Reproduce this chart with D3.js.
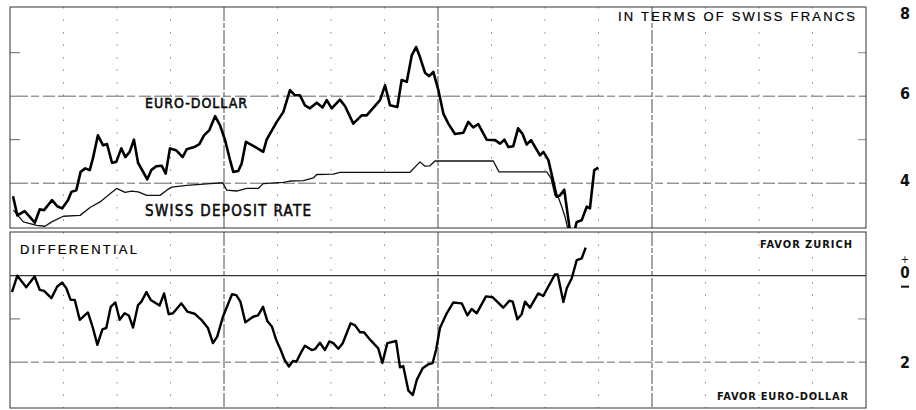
<!DOCTYPE html>
<html>
<head>
<meta charset="utf-8">
<script src="https://cdn.jsdelivr.net/npm/d3@7"></script>
<style>
  html, body { margin: 0; padding: 0; background: #fff; }
  svg { display: block; }
  .lbl { fill: #111; font-family: "DejaVu Sans Condensed", "Liberation Sans", sans-serif; }
  .lbl-wide { fill: #000; font-family: "Liberation Sans", "DejaVu Sans", sans-serif; }
</style>
</head>
<body>
<div id="chart"></div>
<script>
// ---- Data (x = months from start of the period, y = percent per annum)
const euroDollar = [
  [0.17, 3.70], [0.41, 3.26], [0.82, 3.36], [1.10, 3.23], [1.39, 3.09], [1.67, 3.40], [1.91, 3.38],
  [2.36, 3.61], [2.65, 3.47], [2.92, 3.42], [3.25, 3.61], [3.44, 3.80], [3.72, 3.84], [3.96, 4.26],
  [4.22, 4.34], [4.47, 4.30], [4.65, 4.57], [4.93, 5.10], [5.22, 4.87], [5.44, 4.90], [5.72, 4.47],
  [5.96, 4.49], [6.24, 4.80], [6.47, 4.60], [6.71, 4.72], [6.95, 5.00], [7.18, 4.47], [7.70, 4.09],
  [7.92, 4.30], [8.20, 4.39], [8.51, 4.40], [8.73, 4.22], [8.97, 4.80], [9.31, 4.76], [9.68, 4.60],
  [9.91, 4.78], [10.33, 4.83], [10.62, 4.90], [10.88, 5.10], [11.18, 5.22], [11.50, 5.54], [11.78, 5.33],
  [12.06, 4.99], [12.34, 4.53], [12.52, 4.26], [12.80, 4.28], [12.99, 4.45], [13.23, 4.95], [13.64, 4.86],
  [14.20, 4.72], [14.39, 5.00], [14.96, 5.41], [15.33, 5.64], [15.70, 6.14], [15.98, 6.02], [16.26, 6.02],
  [16.54, 5.79], [16.82, 5.72], [17.20, 5.85], [17.53, 5.74], [17.76, 5.91], [18.04, 5.72], [18.50, 5.92],
  [18.79, 5.77], [19.25, 5.37], [19.72, 5.56], [20.00, 5.56], [20.75, 5.91], [21.03, 6.25], [21.31, 5.79],
  [21.72, 5.75], [21.96, 6.37], [22.25, 6.33], [22.53, 6.94], [22.77, 7.13], [22.99, 6.90], [23.27, 6.54],
  [23.51, 6.46], [23.74, 6.56], [24.02, 6.14], [24.30, 5.60], [24.58, 5.37], [24.95, 5.13], [25.42, 5.16],
  [25.70, 5.41], [25.98, 5.28], [26.26, 5.36], [26.73, 5.00], [27.20, 4.99], [27.48, 4.91], [27.72, 5.00],
  [27.95, 4.83], [28.22, 4.85], [28.49, 5.26], [28.73, 5.14], [28.97, 4.89], [29.22, 4.99], [29.72, 4.64],
  [29.91, 4.72], [30.19, 4.53], [30.41, 4.14], [30.66, 3.69], [30.84, 3.72], [31.08, 3.85], [31.25, 3.34],
  [31.40, 2.90], [31.68, 2.95], [31.78, 3.11], [32.06, 3.15], [32.34, 3.46], [32.52, 3.42], [32.76, 4.30],
  [32.99, 4.36]
];

const swissDeposit = [
  [0.19, 3.38], [0.75, 3.11], [1.12, 3.07], [1.50, 3.03], [1.96, 3.01], [2.34, 3.11], [2.99, 3.24],
  [3.93, 3.26], [4.49, 3.44], [5.05, 3.57], [5.61, 3.76], [5.98, 3.88], [6.45, 3.79], [6.82, 3.82],
  [7.19, 3.80], [7.67, 3.72], [8.41, 3.72], [8.79, 3.84], [9.07, 3.91], [9.91, 3.95], [11.22, 3.99],
  [11.93, 4.01], [12.15, 3.84], [12.71, 3.82], [13.27, 3.88], [13.92, 3.88], [14.20, 3.99], [15.33, 4.02],
  [15.70, 4.05], [16.45, 4.06], [17.01, 4.12], [17.20, 4.20], [18.13, 4.21], [18.50, 4.25], [22.43, 4.25],
  [22.99, 4.49], [23.27, 4.39], [23.55, 4.40], [23.83, 4.51], [27.10, 4.51], [27.42, 4.26], [30.10, 4.26],
  [30.34, 4.11], [30.56, 3.72], [30.75, 3.67], [30.94, 3.46], [31.12, 3.23], [31.31, 2.90]
];

const differential = [
  [0.11, -0.38], [0.41, 0.00], [0.91, -0.27], [1.38, -0.02], [1.67, -0.33], [1.91, -0.35], [2.32, -0.52],
  [2.65, -0.25], [2.92, -0.16], [3.16, -0.29], [3.40, -0.56], [3.63, -0.56], [3.91, -1.02], [4.37, -0.85],
  [4.65, -1.21], [4.90, -1.60], [5.18, -1.24], [5.40, -1.21], [5.65, -0.72], [5.91, -0.62], [6.15, -1.02],
  [6.43, -0.87], [6.66, -0.92], [6.90, -1.20], [7.18, -0.68], [7.37, -0.60], [7.65, -0.38], [7.89, -0.56],
  [8.39, -0.69], [8.64, -0.41], [8.90, -0.89], [9.14, -0.87], [9.61, -0.64], [9.94, -0.83], [10.35, -0.88],
  [10.73, -1.02], [11.10, -1.21], [11.38, -1.56], [11.62, -1.41], [11.94, -0.95], [12.45, -0.43], [12.69, -0.45],
  [12.92, -0.60], [13.20, -1.08], [13.63, -0.95], [13.91, -0.92], [14.19, -0.72], [14.43, -1.05], [14.69, -1.18],
  [14.93, -1.49], [15.18, -1.72], [15.40, -1.95], [15.64, -2.10], [15.87, -1.97], [16.06, -1.99], [16.34, -1.76],
  [16.54, -1.62], [16.92, -1.72], [17.10, -1.70], [17.38, -1.55], [17.66, -1.72], [17.91, -1.52], [18.13, -1.56],
  [18.41, -1.69], [18.66, -1.56], [19.10, -1.10], [19.35, -1.15], [19.63, -1.31], [19.85, -1.31], [20.19, -1.48],
  [20.65, -1.68], [20.88, -2.02], [21.16, -1.56], [21.65, -1.51], [21.87, -2.12], [22.05, -2.09], [22.34, -2.66],
  [22.59, -2.76], [22.81, -2.41], [23.14, -2.14], [23.46, -2.05], [23.70, -2.02], [23.89, -1.72], [24.11, -1.21],
  [24.49, -0.87], [24.86, -0.62], [25.33, -0.64], [25.65, -0.92], [25.89, -0.77], [26.17, -0.87], [26.69, -0.48],
  [27.07, -0.50], [27.66, -0.74], [28.00, -0.58], [28.19, -0.60], [28.45, -1.01], [28.69, -0.89], [28.88, -0.60],
  [29.16, -0.74], [29.62, -0.41], [29.90, -0.47], [30.56, 0.03], [30.71, 0.03], [31.03, -0.61], [31.22, -0.29],
  [31.50, -0.06], [31.78, 0.36], [32.06, 0.40], [32.28, 0.65]
];

// ---- Axis marks
const monthDomain = [0, 48];
const yearTicks = [12, 24, 36];
const quarterTicks = [3, 6, 9, 15, 18, 21, 27, 30, 33, 39, 42, 45];
const topDomain = [2.97, 8.05];
const topGrid = [4, 6];
const topShortTicks = [5, 7];
const topTickLabels = ['8', '6', '4'];
const bottomDomain = [-3.06, 1.01];
const bottomGrid = [-2];
const bottomShortTicks = [-1];
const bottomTickLabels = ['2'];

// ---- Layout
const W = 916, H = 410;
const left = 10, right = 866;
const topPanel = { y0: 7, y1: 228 };
const botPanel = { y0: 232, y1: 408 };

const svg = d3.select('#chart').append('svg')
  .attr('width', W).attr('height', H);

const x = d3.scaleLinear().domain(monthDomain).range([left, right]);
const yTop = d3.scaleLinear().domain(topDomain).range([topPanel.y1, topPanel.y0]);
const yBot = d3.scaleLinear().domain(bottomDomain).range([botPanel.y1, botPanel.y0]);

const defs = svg.append('defs');
[['clipTop', topPanel], ['clipBot', botPanel]].forEach(([id, p]) => {
  defs.append('clipPath').attr('id', id).append('rect')
    .attr('x', left).attr('y', p.y0).attr('width', right - left).attr('height', p.y1 - p.y0);
});

// ---- Panel scaffolding (verticals, gridlines, frames)
function drawPanel(p, y, grid, shortTicks) {
  const g = svg.append('g');

  g.selectAll('.q').data(quarterTicks).join('line')
    .attr('x1', d => x(d)).attr('x2', d => x(d))
    .attr('y1', p.y0).attr('y2', p.y1)
    .attr('stroke', '#8a8a8a').attr('stroke-width', 1)
    .attr('stroke-dasharray', '1.5,11');

  g.selectAll('.yr').data(yearTicks).join('line')
    .attr('x1', d => x(d)).attr('x2', d => x(d))
    .attr('y1', p.y0).attr('y2', p.y1)
    .attr('stroke', '#4a4a4a').attr('stroke-width', 1)
    .attr('stroke-dasharray', '14,2,5,2');

  g.selectAll('.grid').data(grid).join('line')
    .attr('x1', left).attr('x2', right)
    .attr('y1', d => y(d)).attr('y2', d => y(d))
    .attr('stroke', '#666').attr('stroke-width', 1)
    .attr('stroke-dasharray', '18,3,8,4,12,3');

  g.selectAll('.tl').data(shortTicks).join('line')
    .attr('x1', left).attr('x2', left + 10)
    .attr('y1', d => y(d)).attr('y2', d => y(d))
    .attr('stroke', '#666');
  g.selectAll('.tr').data(shortTicks).join('line')
    .attr('x1', right - 8).attr('x2', right)
    .attr('y1', d => y(d)).attr('y2', d => y(d))
    .attr('stroke', '#888');

  g.append('rect')
    .attr('x', left).attr('y', p.y0)
    .attr('width', right - left).attr('height', p.y1 - p.y0)
    .attr('fill', 'none').attr('stroke', '#333').attr('stroke-width', 1);
  return g;
}

drawPanel(topPanel, yTop, topGrid, topShortTicks);
const gBot = drawPanel(botPanel, yBot, bottomGrid, bottomShortTicks);

// zero line of the differential
gBot.append('line')
  .attr('x1', left).attr('x2', right)
  .attr('y1', yBot(0)).attr('y2', yBot(0))
  .attr('stroke', '#333').attr('stroke-width', 1.2);

// ---- Series
const lineTop = d3.line().x(d => x(d[0])).y(d => yTop(d[1]));
const lineBot = d3.line().x(d => x(d[0])).y(d => yBot(d[1]));

svg.append('path').datum(swissDeposit)
  .attr('clip-path', 'url(#clipTop)')
  .attr('d', lineTop)
  .attr('fill', 'none').attr('stroke', '#111').attr('stroke-width', 1.3)
  .attr('stroke-linejoin', 'round');

svg.append('path').datum(euroDollar)
  .attr('clip-path', 'url(#clipTop)')
  .attr('d', lineTop)
  .attr('fill', 'none').attr('stroke', '#000').attr('stroke-width', 2.6)
  .attr('stroke-linejoin', 'round');

svg.append('path').datum(differential)
  .attr('clip-path', 'url(#clipBot)')
  .attr('d', lineBot)
  .attr('fill', 'none').attr('stroke', '#000').attr('stroke-width', 2.4)
  .attr('stroke-linejoin', 'round');

// ---- Right-hand scale labels
const axisX = 905;
svg.selectAll('.rtop').data(topTickLabels).join('text')
  .attr('class', 'lbl')
  .attr('x', axisX).attr('y', d => Math.max(yTop(+d) - 3, 13))
  .attr('dy', '0.36em')
  .attr('text-anchor', 'middle')
  .style('font-size', '16px').style('font-weight', 'bold')
  .text(d => d);

svg.selectAll('.rbot').data(bottomTickLabels).join('text')
  .attr('class', 'lbl')
  .attr('x', axisX).attr('y', d => yBot(-d))
  .attr('dy', '0.36em')
  .attr('text-anchor', 'middle')
  .style('font-size', '16px').style('font-weight', 'bold')
  .text(d => d);

// zero with plus / minus marks
svg.append('text').attr('class', 'lbl')
  .attr('x', axisX).attr('y', yBot(0) - 3).attr('dy', '0.36em')
  .attr('text-anchor', 'middle')
  .style('font-size', '15px').style('font-weight', 'bold')
  .text('0');
svg.append('text').attr('class', 'lbl')
  .attr('x', axisX).attr('y', yBot(0) - 17).attr('dy', '0.36em')
  .attr('text-anchor', 'middle')
  .style('font-size', '11px')
  .text('+');
svg.append('line')
  .attr('x1', axisX - 4).attr('x2', axisX + 4)
  .attr('y1', yBot(0) + 11).attr('y2', yBot(0) + 11)
  .attr('stroke', '#111').attr('stroke-width', 2);

// ---- Panel labels
const labels = [
  { text: 'EURO-DOLLAR', x: 145, y: 108, w: 102, size: 14, cls: 'lbl', weight: 'normal' },
  { text: 'SWISS DEPOSIT RATE', x: 145, y: 216, w: 166, size: 15, cls: 'lbl', weight: 'normal' },
  { text: 'IN TERMS OF SWISS FRANCS', x: 618, y: 21, w: 237, size: 13, cls: 'lbl-wide', weight: 'normal' },
  { text: 'DIFFERENTIAL', x: 20, y: 254, w: 117, size: 13, cls: 'lbl-wide', weight: 'normal' },
  { text: 'FAVOR ZURICH', x: 760, y: 248, w: 92, size: 11, cls: 'lbl', weight: 'bold' },
  { text: 'FAVOR EURO-DOLLAR', x: 717, y: 400, w: 131, size: 11, cls: 'lbl', weight: 'bold' }
];

svg.selectAll('.panelLabel').data(labels).join('text')
  .attr('class', d => d.cls)
  .attr('x', d => d.x).attr('y', d => d.y)
  .attr('textLength', d => d.w)
  .attr('lengthAdjust', 'spacing')
  .style('font-size', d => d.size + 'px')
  .style('font-weight', d => d.weight)
  .style('stroke', d => d.weight === 'normal' ? '#000' : 'none')
  .style('stroke-width', d => d.cls === 'lbl' ? 0.5 : 0.2)
  .text(d => d.text);
</script>
</body>
</html>
